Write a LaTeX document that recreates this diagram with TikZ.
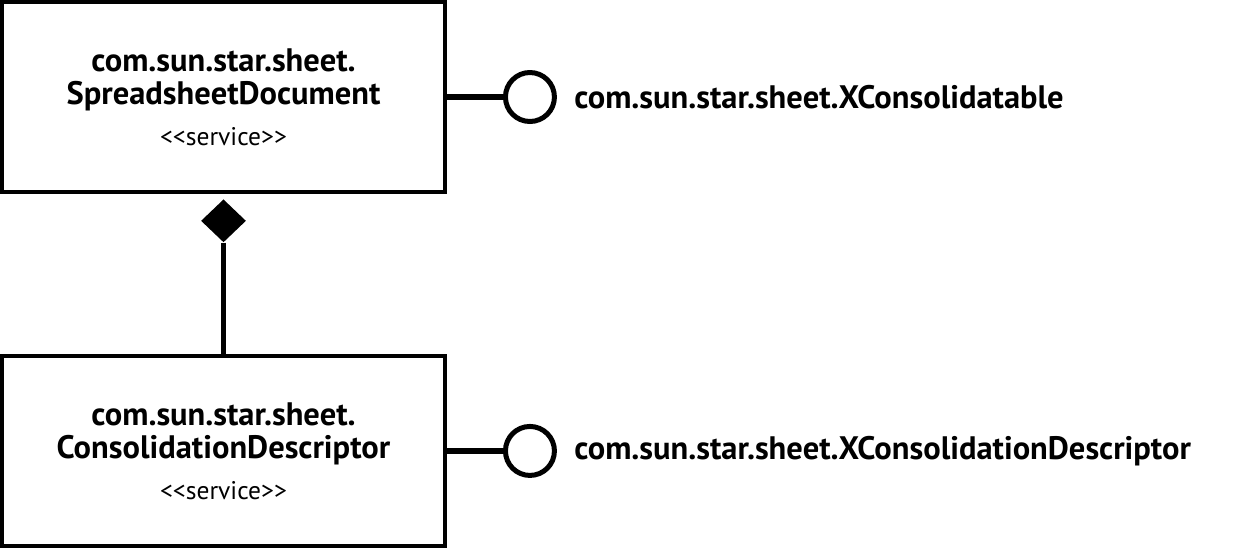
\documentclass[tikz,border=0pt]{standalone}
\usepackage{fontspec}
\setmainfont{PT Sans}
\usetikzlibrary{shapes.geometric, positioning}

\begin{document}
\begin{tikzpicture}[
    x=0.02cm, y=-0.02cm,
    node distance=1.2cm,
    service_node/.style={rectangle, draw=black, line width=0.08cm, minimum width=8.86cm, minimum height=3.8cm, align=center, font=\fontsize{18.5}{19}\selectfont\bfseries},
    iface_node/.style={circle, draw=black, line width=0.1cm, minimum size=0.98cm, inner sep=0pt},
    iface_label/.style={anchor=west, inner sep=0pt, font=\fontsize{18.5}{19}\selectfont\bfseries},
    comp_node/.style={diamond, fill=black, minimum width=0.9cm, minimum height=0.86cm, inner sep=0pt},
    link/.style={draw=black, line width=0.11cm}
]
\useasboundingbox (0,0) rectangle (1238,549);

% Services
\node[service_node] (spreadsheet) at (223.5,97) {com.sun.star.sheet.\\SpreadsheetDocument\\[4pt]{\mdseries\fontsize{14.5}{16}\selectfont <{}<service>{}>}};
\node[service_node, below=3.2cm of spreadsheet] (consolidation) {com.sun.star.sheet.\\ConsolidationDescriptor\\[4pt]{\mdseries\fontsize{14.5}{16}\selectfont <{}<service>{}>}};

% Composition
\node[comp_node, below=0.1cm of spreadsheet] (comp) {};

% Interfaces
\node[iface_node, right=1.12cm of spreadsheet] (xconsolidatable) {};
\node[iface_label, right=0.34cm of xconsolidatable] (xconsolidatable_label) {com.sun.star.sheet.XConsolidatable};
\node[iface_node, right=1.12cm of consolidation] (xdescriptor) {};
\node[iface_label, right=0.34cm of xdescriptor] (xdescriptor_label) {com.sun.star.sheet.XConsolidationDescriptor};

% Connections
\draw[link] (spreadsheet) -- (xconsolidatable);
\draw[link] (consolidation) -- (xdescriptor);
\draw[link] (comp) -- (consolidation);

\end{tikzpicture}
\end{document}
